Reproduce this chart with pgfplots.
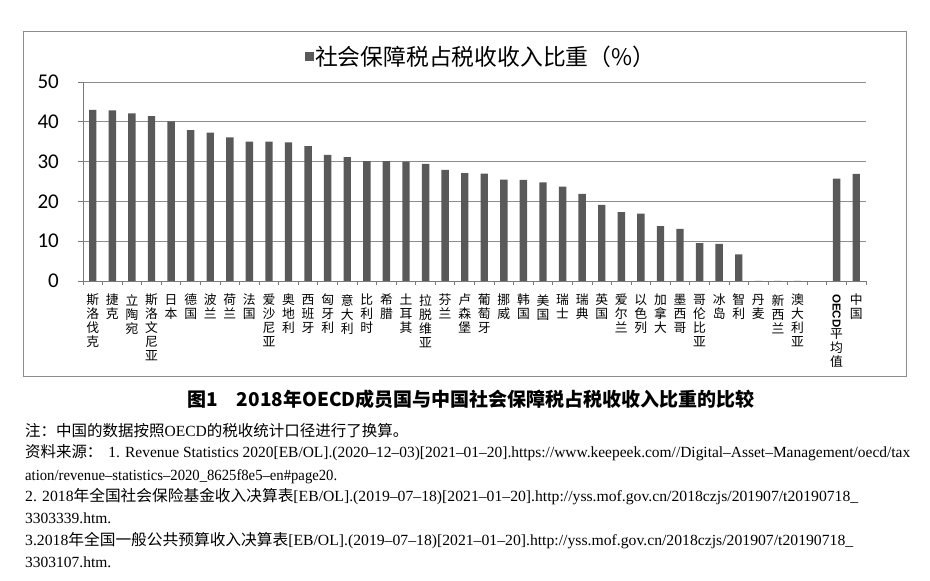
\documentclass[border=0pt]{standalone}
\usepackage{fontspec}
\usepackage{graphicx}
\usepackage{pgfplots}
\pgfplotsset{compat=1.18}
\newfontfamily\cjk{Noto Sans CJK SC}
\newfontfamily\tickf{Carlito}
\newfontfamily\sfb{Liberation Sans}
\newfontfamily\notel[Ligatures=TeX]{Liberation Serif}
\newcommand{\cz}[1]{{\cjk\fontsize{15.5}{18}\selectfont #1}}
\newcommand{\fitline}[2]{\resizebox{#1}{\height}{#2}}
\definecolor{barc}{HTML}{595959}
\definecolor{gridc}{HTML}{8C8C8C}
\definecolor{axisc}{HTML}{7A7A7A}
\definecolor{framec}{HTML}{8C8C8C}
\pgfplotstableread{
x y
0 43.0
1 42.9
2 42.1
3 41.4
4 40.1
5 37.9
6 37.3
7 36.1
8 35.0
9 35.0
10 34.8
11 33.9
12 31.7
13 31.1
14 30.1
15 30.1
16 30.0
17 29.4
18 27.9
19 27.1
20 27.0
21 25.5
22 25.4
23 24.8
24 23.7
25 21.9
26 19.1
27 17.3
28 16.9
29 13.8
30 13.1
31 9.5
32 9.3
33 6.7
34 0
35 0
36 0
38 25.7
39 26.9
}\datatable
\begin{document}
\begin{tikzpicture}[x=1pt,y=1pt]
\path[use as bounding box] (0,0) rectangle (930,581);
\draw[framec, line width=0.9pt] (23,205) rectangle (906,550);
\begin{axis}[
  at={(83pt,300pt)}, anchor=south west, scale only axis,
  width=783pt, height=199pt,
  xmin=-0.5, xmax=39.5, ymin=0, ymax=50,
  axis x line=bottom, axis y line=left,
  axis line style={-, draw=axisc, line width=0.9pt},
  ytick={0,10,...,50}, ymajorgrids, grid style={gridc, line width=0.9pt},
  tick align=outside, major tick length=5pt, minor tick length=4pt,
  tick style={draw=axisc, line width=0.9pt},
  xtick={0,...,39},
  every major x tick/.append style={draw=none},
  minor xtick={-0.5,0.5,...,39.5},
  /pgf/number format/assume math mode=true,
  yticklabel style={font=\tickf\fontsize{21}{21}\selectfont, inner sep=0pt, xshift=-19pt},
  xticklabel style={font=\cjk\fontsize{12.8}{14}\selectfont, align=center, anchor=north, inner sep=0pt, yshift=-8pt},
  xticklabels={斯\\洛\\伐\\克, 捷\\克, 立\\陶\\宛, 斯\\洛\\文\\尼\\亚, 日\\本, 德\\国, 波\\兰, 荷\\兰, 法\\国, 爱\\沙\\尼\\亚, 奥\\地\\利, 西\\班\\牙, 匈\\牙\\利, 意\\大\\利, 比\\利\\时, 希\\腊, 土\\耳\\其, 拉\\脱\\维\\亚, 芬\\兰, 卢\\森\\堡, 葡\\萄\\牙, 挪\\威, 韩\\国, 美\\国, 瑞\\士, 瑞\\典, 英\\国, 爱\\尔\\兰, 以\\色\\列, 加\\拿\\大, 墨\\西\\哥, 哥\\伦\\比\\亚, 冰\\岛, 智\\利, 丹\\麦, 新\\西\\兰, 澳\\大\\利\\亚, {}, {\rotatebox{-90}{\sfb\bfseries\fontsize{11.5}{12}\selectfont OECD}\\平\\均\\值}, 中\\国},
  legend style={at={(0.2835,1.126)}, anchor=west, draw=none, fill=none,
    font=\cjk\fontsize{22.8}{24}\selectfont, inner sep=0pt, nodes={inner sep=1pt}},
  legend cell align=left,
]
\addplot[ybar, bar width=7.4pt, fill=barc, draw=none,
  legend image code/.code={\fill[barc] (0pt,-4.5pt) rectangle (9pt,4.5pt);}]
  table[x=x,y=y]{\datatable};
\addlegendentry{社会保障税占税收收入比重（\%）}
\end{axis}
\node[anchor=center, font=\cjk\bfseries\fontsize{19}{20}\selectfont] at (471,182) {图1\hspace{1em}2018年OECD成员国与中国社会保障税占税收收入比重的比较};
\begin{scope}[every node/.style={anchor=base west, inner sep=0pt, font=\notel\fontsize{15.5}{17}\selectfont}]
\node at (25,144) {\cz{注：中国的数据按照}OECD\cz{的税收统计口径进行了换算。}};
\node at (25,123) {\fitline{885pt}{\cz{资料来源：}\hspace{6pt}1. Revenue Statistics 2020[EB/OL].(2020--12--03)[2021--01--20].https://www.keepeek.com//Digital--Asset--Management/oecd/tax}};
\node at (25,100) {\fitline{312pt}{ation/revenue--statistics--2020\_8625f8e5--en\#page20.}};
\node at (25,79) {\fitline{833pt}{2. 2018\cz{年全国社会保险基金收入决算表}[EB/OL].(2019--07--18)[2021--01--20].http://yss.mof.gov.cn/2018czjs/201907/t20190718\_}};
\node at (25,57) {3303339.htm.};
\node at (25,35) {\fitline{828pt}{3.2018\cz{年全国一般公共预算收入决算表}[EB/OL].(2019--07--18)[2021--01--20].http://yss.mof.gov.cn/2018czjs/201907/t20190718\_}};
\node at (25,13) {3303107.htm.};
\end{scope}
\end{tikzpicture}
\end{document}
